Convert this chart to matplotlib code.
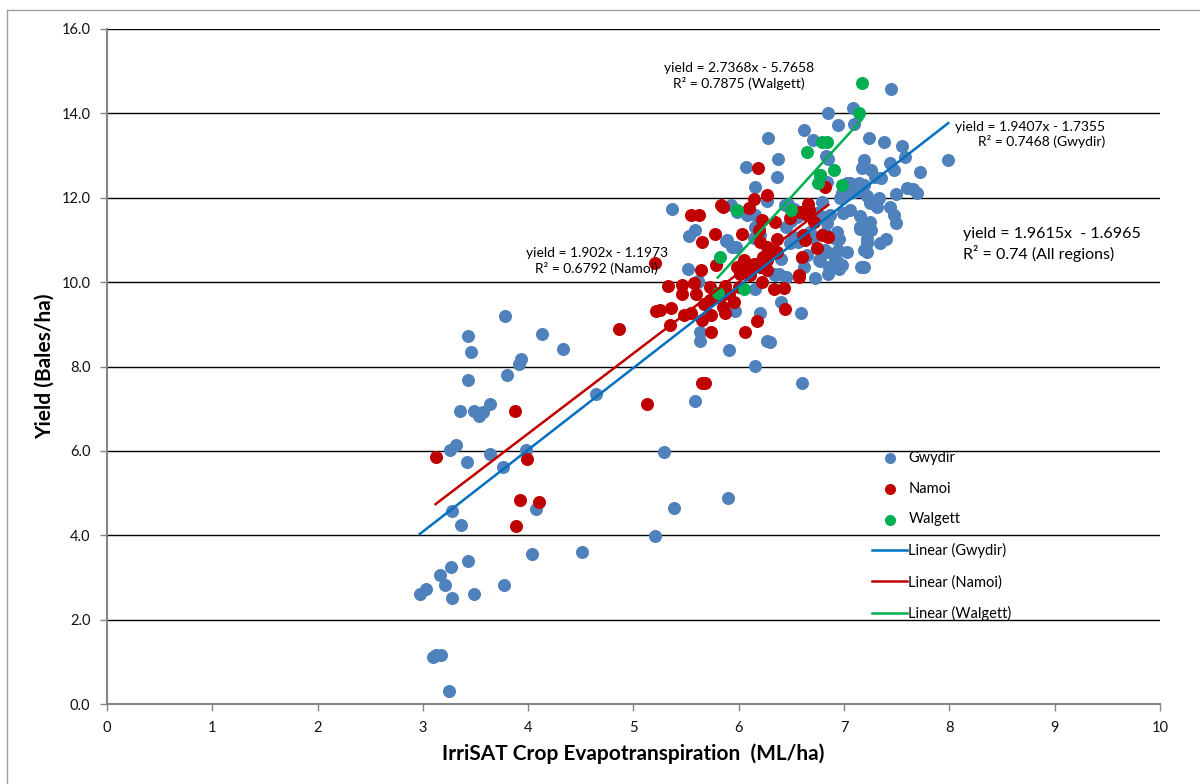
import numpy as np
import matplotlib
matplotlib.use("Agg")
import matplotlib.pyplot as plt
from matplotlib.lines import Line2D

plt.rcParams['font.family'] = ['Lato', 'DejaVu Sans']

# Gwydir points (ET ML/ha, yield bales/ha)
gwydir_x = [3.10, 3.12, 3.17, 3.25, 2.97, 3.03, 3.28, 3.21, 3.16, 3.27, 3.43, 3.49, 3.77,
            4.04, 4.51, 5.20, 3.28, 3.36, 4.07, 3.31, 3.26, 3.42, 3.64, 3.76, 3.98, 3.35,
            3.49, 3.53, 3.57, 3.64, 4.64, 3.43, 3.80, 3.93, 3.91, 3.43, 3.46, 4.13, 4.33,
            3.78, 5.38, 5.90, 5.29, 5.58, 6.60, 6.15, 5.91, 5.63, 5.63, 6.27, 6.30, 6.20,
            6.59, 6.40, 5.96, 6.15, 6.45, 6.33, 5.52, 5.61, 5.53, 5.58, 5.37, 5.88, 5.94,
            5.93, 6.08, 6.15, 6.15, 6.27, 6.07, 6.36, 6.37, 6.28, 6.15, 6.19, 6.52, 6.49,
            6.34, 6.45, 5.61, 5.98, 6.44, 6.52, 6.55, 6.74, 6.81, 6.87, 6.90, 6.82, 6.91,
            6.86, 6.94, 6.76, 5.89, 5.97, 6.20, 6.14, 6.38, 7.15, 7.22, 7.19, 7.22, 7.19,
            6.83, 7.19, 7.17, 6.77, 6.84, 7.06, 7.12, 7.09, 7.02, 6.96, 7.19,
            7.45, 6.85, 7.08, 7.09, 6.94, 6.62, 6.70, 7.24, 7.38, 7.55, 7.58, 7.99, 6.85,
            7.18, 7.44, 7.47, 7.72, 7.26, 7.29, 7.35, 7.60, 7.69, 7.65, 7.03, 7.09, 7.14,
            6.98, 7.06, 7.15, 7.22, 7.25, 7.33, 7.31, 7.49, 7.44, 7.47, 7.49, 7.15, 7.25,
            7.26, 7.22, 7.34, 7.40, 7.15, 6.93, 6.95, 7.03, 7.22, 7.16, 6.84, 6.77, 6.93,
            6.95, 6.85, 6.82, 6.84, 6.99, 7.06, 6.65, 6.79, 6.98, 6.72, 6.60, 6.68, 6.45,
            6.50, 6.56, 6.62, 6.40, 6.47, 6.70]
gwydir_y = [1.12, 1.15, 1.16, 0.32, 2.61, 2.72, 2.52, 2.81, 3.06, 3.25, 3.40, 2.61, 2.82,
            3.56, 3.61, 3.98, 4.57, 4.24, 4.63, 6.15, 6.01, 5.74, 5.92, 5.62, 6.03, 6.95,
            6.95, 6.83, 6.92, 7.10, 7.36, 7.68, 7.80, 8.17, 8.06, 8.72, 8.34, 8.76, 8.41,
            9.20, 4.65, 4.88, 5.97, 7.19, 7.61, 8.02, 8.39, 8.61, 8.82, 8.61, 8.57, 9.26,
            9.27, 9.54, 9.32, 9.84, 10.11, 10.20, 10.30, 10.03, 11.10, 11.23, 11.74, 10.97, 10.84,
            11.83, 11.59, 11.59, 12.26, 11.93, 12.72, 12.49, 12.93, 13.41, 11.31, 11.23, 11.07, 10.92,
            10.17, 10.13, 10.01, 11.67, 11.83, 11.74, 11.55, 11.63, 11.55, 11.59, 11.04, 10.76, 10.52,
            10.37, 10.76, 10.52, 11.00, 10.84, 11.12, 11.04, 10.20, 11.31, 11.16, 10.76, 10.92, 10.37,
            12.98, 12.89, 12.70, 12.54, 12.38, 12.34, 12.26, 12.14, 12.10, 11.99, 12.31,
            14.58, 14.00, 14.12, 13.76, 13.72, 13.60, 13.37, 13.41, 13.31, 13.23, 12.97, 12.89, 12.91,
            12.73, 12.83, 12.66, 12.62, 12.66, 12.50, 12.46, 12.24, 12.12, 12.20, 12.34, 12.30, 12.34,
            12.11, 12.11, 12.15, 12.03, 11.87, 11.99, 11.79, 12.08, 11.79, 11.59, 11.39, 11.56, 11.43,
            11.23, 11.03, 10.92, 11.03, 11.27, 11.19, 11.03, 10.72, 10.72, 10.36, 10.72, 10.50, 10.51,
            10.30, 10.20, 11.16, 11.39, 11.63, 11.71, 10.64, 11.90, 10.40, 10.10, 10.58, 11.20, 11.30,
            11.45, 10.95, 10.35, 10.55, 11.85, 11.05]

# Namoi points
namoi_x = [3.12, 3.87, 3.99, 3.92, 4.10, 3.88, 4.86, 5.13, 5.21, 5.20, 5.65, 5.68, 5.55,
           5.62, 5.83, 5.65, 5.77, 6.03, 5.64, 5.78, 5.33, 5.46, 5.57, 5.46, 5.59, 5.73,
           5.87, 6.00, 5.36, 5.48, 5.55, 5.65, 5.74, 5.85, 5.87, 5.95, 5.35, 5.74, 6.06,
           6.17, 6.44, 5.67, 5.73, 5.82, 5.91, 5.25, 6.11, 6.22, 6.33, 6.43, 6.57, 6.01,
           5.98, 6.07, 6.20, 6.27, 6.05, 6.14, 6.20, 6.27, 6.33, 6.36, 6.20, 6.27, 6.19,
           6.22, 6.14, 6.27, 6.34, 6.10, 6.18, 5.85, 6.60, 6.74, 6.79, 6.85, 6.61, 6.63,
           6.71, 6.66, 6.67, 6.58, 6.65, 6.49, 6.82, 6.57, 6.36, 6.23]
namoi_y = [5.85, 6.95, 5.81, 4.84, 4.80, 4.21, 8.90, 7.12, 9.32, 10.46, 7.62, 7.62, 11.60,
           11.60, 11.82, 10.94, 11.13, 11.13, 10.29, 10.41, 9.91, 9.93, 9.97, 9.73, 9.73, 9.89,
           9.91, 9.89, 9.38, 9.22, 9.26, 9.10, 9.22, 9.42, 9.26, 9.54, 8.98, 8.82, 8.82,
           9.08, 9.36, 9.49, 9.57, 9.65, 9.73, 9.34, 10.17, 10.01, 9.83, 9.85, 10.12, 10.20,
           10.36, 10.44, 10.40, 10.28, 10.52, 10.44, 10.37, 10.52, 10.68, 11.03, 10.96, 10.84, 11.23,
           11.48, 11.98, 12.06, 11.43, 11.75, 12.70, 11.79, 10.60, 10.80, 11.12, 11.08, 11.12, 11.00,
           11.43, 11.86, 11.71, 11.67, 11.59, 11.51, 12.26, 10.17, 10.72, 10.60]

# Walgett points
walgett_x = [7.17, 7.14, 6.79, 6.84, 6.65, 6.90, 6.77, 6.75, 6.98, 6.50, 5.98, 5.82, 5.80, 6.05]
walgett_y = [14.71, 14.02, 13.33, 13.33, 13.09, 12.66, 12.54, 12.34, 12.31, 11.71, 11.71, 10.59, 9.75, 9.83]

# trend line coefficients (slope, intercept) as printed on the chart
fit_gwydir = (1.9407, -1.7355)
fit_namoi = (1.902, -1.1973)
fit_walgett = (2.7368, -5.7658)

x_ticks = list(range(0, 11))
y_ticks = [0, 2, 4, 6, 8, 10, 12, 14, 16]

c_blue = '#4F81BD'
c_red = '#C00000'
c_green = '#00B050'
c_line_blue = '#0070C0'
axis_grey = '#868686'

fig = plt.figure(figsize=(12, 7.84), dpi=100)
ax = fig.add_axes([107 / 1200, 1 - 704 / 784, 1053 / 1200, 675 / 784])

ax.scatter(gwydir_x, gwydir_y, s=88, color=c_blue, linewidths=0, zorder=3, label='Gwydir')
ax.scatter(namoi_x, namoi_y, s=88, color=c_red, linewidths=0, zorder=3, label='Namoi')
ax.scatter(walgett_x, walgett_y, s=88, color=c_green, linewidths=0, zorder=3, label='Walgett')


def trend(xs, fit, color, label):
    x = np.array([min(xs), max(xs)])
    ax.plot(x, fit[0] * x + fit[1], color=color, lw=1.8, zorder=4, label=label)


trend(gwydir_x, fit_gwydir, c_line_blue, 'Linear (Gwydir)')
trend(namoi_x, fit_namoi, c_red, 'Linear (Namoi)')
trend(walgett_x, fit_walgett, c_green, 'Linear (Walgett)')

ax.set_xlim(0, 10)
ax.set_ylim(0, 16)
ax.set_xticks(x_ticks)
ax.set_yticks(y_ticks)
ax.set_yticklabels(['%.1f' % v for v in y_ticks])
ax.yaxis.grid(True, color='black', lw=1.0, zorder=0)
ax.set_axisbelow(True)
for s in ['top', 'right']:
    ax.spines[s].set_visible(False)
for s in ['left', 'bottom']:
    ax.spines[s].set_color(axis_grey)
    ax.spines[s].set_linewidth(1.5)
    ax.spines[s].set_zorder(2)
ax.tick_params(axis='both', direction='out', length=5, width=1, color=axis_grey,
               labelsize=10.5, labelcolor='#111111', pad=7)

ax.set_xlabel('IrriSAT Crop Evapotranspiration  (ML/ha)', fontsize=15, fontweight='bold', labelpad=6)
ax.set_ylabel('Yield (Bales/ha)', fontsize=15, fontweight='bold', labelpad=5)

# equations
ax.text(6.0, 14.88, 'yield = 2.7368x - 5.7658\nR² = 0.7875 (Walgett)', ha='center', va='center',
        multialignment='center', fontsize=10, linespacing=1.3)
ax.text(9.48, 13.50, 'yield = 1.9407x - 1.7355\nR² = 0.7468 (Gwydir)', ha='right', va='center',
        multialignment='right', fontsize=10, linespacing=1.25)
ax.text(8.13, 10.89, 'yield = 1.9615x  - 1.6965\nR² = 0.74 (All regions)', ha='left', va='center',
        fontsize=11.5, linespacing=1.3)
ax.text(4.65, 10.50, 'yield = 1.902x - 1.1973\nR² = 0.6792 (Namoi)', ha='center', va='center',
        multialignment='center', fontsize=10, linespacing=1.25)

leg = ax.legend(loc='upper left', bbox_to_anchor=(0.7265, 0.375), frameon=False, fontsize=10.5,
                borderaxespad=0, borderpad=0, labelspacing=1.15, handlelength=2.4,
                handletextpad=0.1, markerscale=0.85)

# outer chart border (left and top visible)
fig.add_artist(Line2D([7 / 1200, 7 / 1200], [0, 1 - 10 / 784], color='#A0A0A0', lw=1,
                      transform=fig.transFigure))
fig.add_artist(Line2D([7 / 1200, 1], [1 - 10 / 784, 1 - 10 / 784], color='#A0A0A0', lw=1,
                      transform=fig.transFigure))

fig.savefig('out.png', dpi=100)
